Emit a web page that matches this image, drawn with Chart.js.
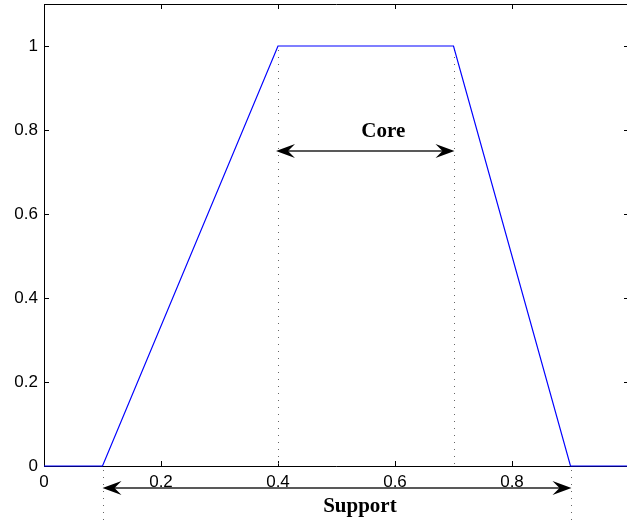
<!DOCTYPE html>
<html>
<head>
<meta charset="utf-8">
<script src="https://cdn.jsdelivr.net/npm/chart.js@4"></script>
<style>
  html, body { margin: 0; padding: 0; overflow: hidden; background: #fff; }
  #wrap { position: absolute; left: 0; top: 0; width: 640px; height: 522px; }
</style>
</head>
<body>
<div id="wrap"><canvas id="chart" width="640" height="522"></canvas></div>
<script>
// membership function (trapezoid)
const xValues = [0, 0.1, 0.4, 0.7, 0.9, 1];
const yValues = [0, 0, 1, 1, 0, 0];
const xTicks = [0, 0.2, 0.4, 0.6, 0.8];
const yTicks = [0, 0.2, 0.4, 0.6, 0.8, 1];
const coreRange = [0.4, 0.7];
const supportRange = [0.1, 0.9];
const coreLevel = 0.75;

const trapPoints = xValues.map((x, i) => ({ x: x, y: yValues[i] }));

function arrowHead(ctx, tipX, y, dir) {
  // dir = -1 pointing left, 1 pointing right
  const len = 19, half = 7, notch = 12;
  ctx.beginPath();
  ctx.moveTo(tipX, y);
  ctx.lineTo(tipX - dir * len, y - half);
  ctx.lineTo(tipX - dir * notch, y);
  ctx.lineTo(tipX - dir * len, y + half);
  ctx.closePath();
  ctx.fill();
}

function doubleArrow(ctx, x1, x2, y) {
  ctx.save();
  ctx.strokeStyle = "#222";
  ctx.fillStyle = "#000";
  ctx.lineWidth = 1.5;
  ctx.beginPath();
  ctx.moveTo(x1 + 10, y);
  ctx.lineTo(x2 - 10, y);
  ctx.stroke();
  arrowHead(ctx, x1, y, -1);
  arrowHead(ctx, x2, y, 1);
  ctx.restore();
}

function dottedLine(ctx, x, y1, y2) {
  ctx.save();
  ctx.strokeStyle = "#666";
  ctx.lineWidth = 1;
  ctx.setLineDash([1, 6]);
  ctx.beginPath();
  ctx.moveTo(Math.round(x) + 0.5, y1);
  ctx.lineTo(Math.round(x) + 0.5, y2);
  ctx.stroke();
  ctx.restore();
}

const decorations = {
  id: "decorations",
  beforeDatasetsDraw(chart) {
    const ctx = chart.ctx;
    const xs = chart.scales.x, ys = chart.scales.y;
    const a = chart.chartArea;

    // frame and inward ticks
    ctx.save();
    ctx.strokeStyle = "#000";
    ctx.lineWidth = 1;
    ctx.beginPath();
    ctx.moveTo(a.left + 0.5, a.top);
    ctx.lineTo(a.left + 0.5, a.bottom + 0.5);
    ctx.lineTo(a.right, a.bottom + 0.5);
    ctx.moveTo(a.left, a.top + 0.5);
    ctx.lineTo(a.right, a.top + 0.5);
    ctx.moveTo(a.right - 0.5, a.top);
    ctx.lineTo(a.right - 0.5, a.bottom);
    const tl = 5;
    xs.ticks.forEach(t => {
      const px = Math.round(xs.getPixelForValue(t.value)) + 0.5;
      ctx.moveTo(px, a.bottom); ctx.lineTo(px, a.bottom - tl);
      ctx.moveTo(px, a.top); ctx.lineTo(px, a.top + tl);
    });
    ys.ticks.forEach(t => {
      const py = Math.round(ys.getPixelForValue(t.value)) + 0.5;
      ctx.moveTo(a.left, py); ctx.lineTo(a.left + tl, py);
      ctx.moveTo(a.right, py); ctx.lineTo(a.right - tl, py);
    });
    ctx.stroke();
    ctx.restore();

    // dotted guides
    const y0 = ys.getPixelForValue(0), y1 = ys.getPixelForValue(1);
    coreRange.forEach(v => dottedLine(ctx, xs.getPixelForValue(v), y1 + 4, y0));
    supportRange.forEach(v => dottedLine(ctx, xs.getPixelForValue(v), y0 + 4, chart.height));
  },
  afterDatasetsDraw(chart) {
    const ctx = chart.ctx;
    const xs = chart.scales.x, ys = chart.scales.y;
    const a = chart.chartArea;

    const cy = Math.round(ys.getPixelForValue(coreLevel));
    doubleArrow(ctx, xs.getPixelForValue(coreRange[0]) - 2, xs.getPixelForValue(coreRange[1]) + 1, cy);
    const sy = a.bottom + 22;
    doubleArrow(ctx, xs.getPixelForValue(supportRange[0]), xs.getPixelForValue(supportRange[1]) + 1, sy);

    ctx.save();
    ctx.fillStyle = "#000";
    ctx.font = "bold 21px 'Liberation Serif', 'Times New Roman', serif";
    ctx.textAlign = "center";
    ctx.textBaseline = "alphabetic";
    ctx.fillText("Core", xs.getPixelForValue(0.58), cy - 14);
    ctx.fillText("Support", xs.getPixelForValue(0.54), sy + 24);
    ctx.restore();
  }
};

function noPad(s) {
  s.paddingTop = 0; s.paddingBottom = 0;
  s.paddingLeft = 0; s.paddingRight = 0;
}

new Chart(document.getElementById("chart"), {
  type: "scatter",
  data: {
    datasets: [
      {
        data: trapPoints,
        showLine: true,
        borderColor: "rgb(0,0,255)",
        borderWidth: 1.2,
        pointRadius: 0,
        tension: 0,
        clip: false,
      },
    ],
  },
  options: {
    responsive: false,
    animation: false,
    layout: { padding: { top: 4, right: 11, left: 0, bottom: 0 } },
    plugins: { legend: { display: false }, tooltip: { enabled: false } },
    scales: {
      x: {
        type: "linear",
        min: 0,
        max: 1,
        grid: { display: false, drawTicks: false },
        border: { display: false },
        afterBuildTicks: (s) => { s.ticks = xTicks.map(v => ({ value: v })); },
        afterFit: (s) => { s.height = 56; noPad(s); },
        ticks: {
          color: "#000",
          padding: 6,
          maxRotation: 0,
          font: { family: "'Liberation Sans', Arial, sans-serif", size: 17 },
          callback: (v) => String(v),
        },
      },
      y: {
        type: "linear",
        min: 0,
        max: 1.1,
        grid: { display: false, drawTicks: false },
        border: { display: false },
        afterBuildTicks: (s) => { s.ticks = yTicks.map(v => ({ value: v })); },
        afterFit: (s) => { s.width = 44; noPad(s); },
        ticks: {
          color: "#000",
          padding: 6,
          font: { family: "'Liberation Sans', Arial, sans-serif", size: 17 },
          callback: (v) => String(v),
        },
      },
    },
  },
  plugins: [decorations],
});
</script>
</body>
</html>
